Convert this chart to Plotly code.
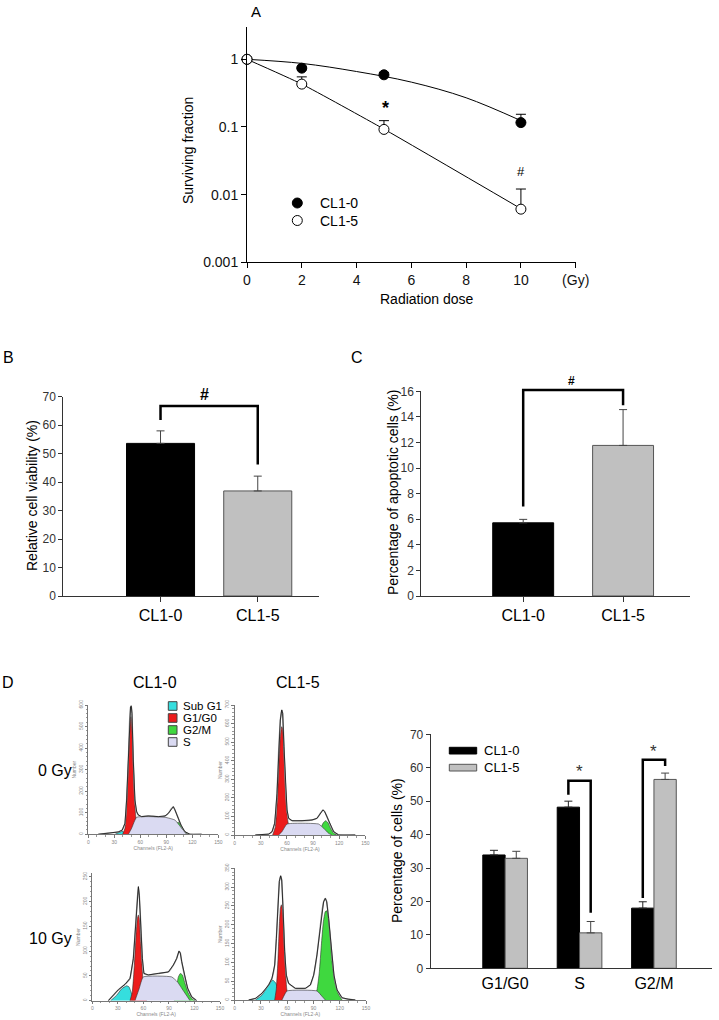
import plotly.graph_objects as go

W, H = 719, 1020


def PX(x):
    return x / W


def PY(y):
    return 1 - y / H


FONT = "Arial, Liberation Sans, sans-serif"

# ---------------- Panel A : clonogenic survival ----------------
dose = [0, 2, 5, 10]
sf_cl10 = [1.0, 0.74, 0.59, 0.116]
sf_cl10_err = [0, 0.03, 0.05, 0.038]
sf_cl15 = [1.0, 0.43, 0.092, 0.0061]
sf_cl15_err = [0, 0.12, 0.032, 0.006]
fit_dose_cl10 = [0, 2, 4, 6, 8, 10]
fit_sf_cl10 = [1.0, 0.87, 0.66, 0.46, 0.27, 0.124]
fit_dose_cl15 = [0, 2, 5, 10]
fit_sf_cl15 = [1.0, 0.43, 0.093, 0.0062]
dose_ticks = [0, 2, 4, 6, 8, 10, 12]
dose_ticktext = ["0", "2", "4", "6", "8", "10", "(Gy)"]
sf_ticks = [0.001, 0.01, 0.1, 1]
sf_ticktext = ["0.001", "0.01", "0.1", "1"]

# ---------------- Panel B : viability ----------------
lines = ["CL1-0", "CL1-5"]
viability = [53.6, 36.9]
viability_err = [4.4, 5.2]
viab_bracket = [61.8, 66.7, 46.2]   # left leg end, bar, right leg end
viab_mark_y = 70.9

# ---------------- Panel C : apoptosis ----------------
apoptosis = [5.72, 11.77]
apoptosis_err = [0.27, 2.8]
apop_bracket = [7.0, 16.1, 14.9]
apop_mark_y = 16.8

# ---------------- Panel D : cell cycle ----------------
phases = ["G1/G0", "S", "G2/M"]
cycle_cl10 = [33.9, 48.2, 18.0]
cycle_cl10_err = [1.4, 1.8, 1.9]
cycle_cl15 = [32.9, 10.6, 56.5]
cycle_cl15_err = [2.1, 3.4, 1.9]
s_bracket = [51.9, 56.1, 16.6]
g2m_bracket = [21.0, 62.4, 60.5]
star_y = [59.0, 65.0]

# flow-cytometry histograms (channel, count)
h_tl_env = [(11.5, 0), (23, 5), (34.6, 11), (39.2, 20), (42.3, 51), (44.2, 159), (46.2, 345),
            (47.7, 530), (48.8, 592), (49.6, 595), (50.4, 561), (51.9, 345), (53.8, 159),
            (55.8, 105), (57.7, 90), (61.5, 82), (69.2, 85), (80.8, 82), (88.5, 85),
            (92.3, 97), (95.4, 116), (98.1, 128), (100, 113), (103.1, 82), (106.9, 43),
            (111.5, 12), (117.3, 0), (130.8, 0)]
h_tl_sub = [(30.8, 0), (35.4, 8), (39.6, 15), (41.5, 0)]
h_tl_g1 = [(39.6, 0), (42.3, 28), (44.2, 128), (45.8, 283), (47.3, 437), (48.5, 530), (49.2, 546),
           (50, 530), (51.2, 422), (52.3, 283), (53.5, 159), (54.6, 90), (55.8, 43), (57.7, 12),
           (59.6, 0)]
h_tl_g2 = [(96.2, 0), (99.2, 28), (101.9, 51), (103.8, 56), (106.2, 48), (108.5, 28), (111.5, 8),
           (114.6, 0)]
h_tl_s = [(46.2, 0), (50, 28), (55.8, 79), (88.5, 79), (100, 66), (107.7, 28), (113.5, 0)]
h_tl_marks = [50]

h_tr_env = [(23.7, 0), (39, 5), (42.9, 18), (45.9, 63), (48.6, 224), (50.5, 458), (52.4, 619),
            (54, 673), (55.1, 655), (56.6, 476), (58.2, 278), (60.1, 135), (62, 90), (65.8, 77),
            (77.3, 77), (88.8, 81), (94.5, 90), (98.4, 117), (101.4, 135), (103.3, 126),
            (106, 99), (109.8, 54), (113.7, 18), (119.4, 0), (138.5, 0)]
h_tr_sub = []
h_tr_g1 = [(43.6, 0), (46.7, 45), (49, 188), (50.9, 386), (52.4, 530), (54, 583), (55.1, 574),
           (56.6, 440), (58.2, 260), (59.7, 135), (61.2, 72), (63.1, 27), (65.8, 0)]
h_tr_g2 = [(95.7, 0), (98.7, 36), (101.8, 66), (104.5, 77), (107.2, 66), (110.2, 36), (113.7, 9),
           (117.5, 0)]
h_tr_s = [(50.5, 0), (54.3, 18), (60.1, 59), (96.4, 59), (102.2, 36), (107.9, 9), (111.7, 0)]
h_tr_marks = [54, 102]

h_bl_env = [(18.8, 0), (24.7, 11), (30.6, 22), (38.4, 33), (44.3, 45), (48.2, 85), (50.9, 153),
            (52.9, 206), (54.1, 230), (55.2, 213), (56.8, 159), (58.8, 85), (60.7, 55),
            (65.8, 52), (77.6, 55), (89.3, 58), (95.2, 72), (99.1, 85), (101.8, 100),
            (103.4, 96), (105, 79), (108.1, 52), (112, 25), (116.7, 8), (122.6, 0)]
h_bl_sub = [(21.5, 0), (28.6, 11), (34.5, 24), (40.3, 30), (43.1, 28), (45.4, 18), (48.2, 0)]
h_bl_g1 = [(44.3, 0), (47, 18), (49.4, 72), (51.3, 132), (52.9, 166), (54.1, 173), (55.2, 166),
           (56.8, 119), (58.4, 72), (59.9, 32), (61.9, 8), (63.8, 0)]
h_bl_g2 = [(96.4, 0), (98.7, 25), (101.1, 48), (103.4, 55), (105.8, 52), (108.9, 35), (112.8, 15),
           (117.5, 3), (120.6, 0)]
h_bl_s = [(50.1, 0), (55, 24), (59.9, 48), (93.2, 48), (100, 38), (107, 20), (114.8, 0)]
h_bl_marks = [54, 103]

h_br_env = [(16, 0), (23.6, 4), (31.2, 18), (38.8, 40), (42.6, 58), (45.7, 93), (47.6, 164),
            (49.5, 253), (51, 315), (52.5, 330), (53.7, 319), (55.2, 244), (57.1, 128),
            (59, 66), (61.7, 44), (69.3, 31), (80.7, 31), (86.4, 40), (90.2, 66), (94, 120),
            (97.1, 182), (99.7, 235), (101.6, 261), (103.5, 270), (105.1, 261), (107.3, 217),
            (110.4, 137), (113.4, 66), (116.9, 27), (122.6, 6), (130.2, 2), (137.8, 0)]
h_br_sub = [(23.6, 0), (31.2, 13), (38.8, 40), (43.4, 53), (47.2, 44), (51, 0)]
h_br_g1 = [(45.7, 0), (47.6, 31), (49.5, 111), (51, 199), (52.2, 244), (53.3, 253), (54.8, 239),
           (56.3, 164), (57.9, 84), (59.4, 31), (61.7, 0)]
h_br_g2 = [(86.4, 0), (90.2, 9), (94, 27), (96.7, 75), (99, 146), (101.3, 208), (103.5, 235),
           (105.1, 237), (106.6, 226), (108.9, 173), (111.2, 102), (114.2, 49), (118, 18),
           (122.6, 0)]
h_br_s = [(54, 0), (59.8, 24), (94, 24), (99.7, 10), (103.5, 0)]
h_br_marks = [54, 104]

hist_phase_names = ["Sub G1", "G1/G0", "G2/M", "S"]
hist_phase_colors = ["#35dede", "#ec1c1c", "#3fd83f", "#dadaf2"]

fig = go.Figure()

# ---- Panel A traces
fig.add_trace(go.Scatter(x=fit_dose_cl10, y=fit_sf_cl10, mode="lines", line=dict(color="black", width=1, shape="spline"),
                         xaxis="x", yaxis="y", showlegend=False, hoverinfo="skip"))
fig.add_trace(go.Scatter(x=fit_dose_cl15, y=fit_sf_cl15, mode="lines", line=dict(color="black", width=1, shape="spline", smoothing=0.5),
                         xaxis="x", yaxis="y", showlegend=False, hoverinfo="skip"))
fig.add_trace(go.Scatter(x=dose, y=sf_cl10, mode="markers", name="CL1-0",
                         marker=dict(size=10, color="black", line=dict(color="black", width=1)),
                         error_y=dict(type="data", symmetric=False, array=sf_cl10_err, arrayminus=[0] * 4,
                                      color="black", thickness=1, width=5),
                         xaxis="x", yaxis="y", showlegend=False, cliponaxis=False))
fig.add_trace(go.Scatter(x=dose, y=sf_cl15, mode="markers", name="CL1-5",
                         marker=dict(size=10, color="white", line=dict(color="black", width=1)),
                         error_y=dict(type="data", symmetric=False, array=sf_cl15_err, arrayminus=[0] * 4,
                                      color="black", thickness=1, width=5),
                         xaxis="x", yaxis="y", showlegend=False, cliponaxis=False))

# ---- Panel B
fig.add_trace(go.Bar(x=[1, 2], y=viability, width=0.7,
                     marker=dict(color=["black", "#c0c0c0"], line=dict(color=["black", "#555555"], width=1)),
                     error_y=dict(type="data", symmetric=False, array=viability_err, arrayminus=[0, 0],
                                  color="#444444", thickness=1, width=4),
                     xaxis="x2", yaxis="y2", showlegend=False))
# bracket drawn on a hidden overlay axis with the same scale but a taller plot area
fig.add_trace(go.Scatter(x=[1, 1, 2, 2], y=[viab_bracket[0], viab_bracket[1], viab_bracket[1], viab_bracket[2]],
                         mode="lines", line=dict(color="black", width=2.5), xaxis="x9", yaxis="y9",
                         showlegend=False, hoverinfo="skip"))

# ---- Panel C
fig.add_trace(go.Bar(x=[1, 2], y=apoptosis, width=0.61,
                     marker=dict(color=["black", "#c0c0c0"], line=dict(color=["black", "#555555"], width=1)),
                     error_y=dict(type="data", symmetric=False, array=apoptosis_err, arrayminus=[0, 0],
                                  color="#444444", thickness=1, width=4),
                     xaxis="x3", yaxis="y3", showlegend=False))
fig.add_trace(go.Scatter(x=[1, 1, 2, 2], y=[apop_bracket[0], apop_bracket[1], apop_bracket[1], apop_bracket[2]],
                         mode="lines", line=dict(color="black", width=2.5), xaxis="x10", yaxis="y10",
                         showlegend=False, hoverinfo="skip"))

# ---- Panel D bars
phase_pos = [1, 2, 3]
fig.add_trace(go.Bar(x=phase_pos, y=cycle_cl10, name="CL1-0",
                     marker=dict(color="black", line=dict(color="black", width=1)),
                     error_y=dict(type="data", symmetric=False, array=cycle_cl10_err, arrayminus=[0] * 3,
                                  color="#222222", thickness=1, width=4),
                     xaxis="x4", yaxis="y4", showlegend=False))
fig.add_trace(go.Bar(x=phase_pos, y=cycle_cl15, name="CL1-5",
                     marker=dict(color="#c0c0c0", line=dict(color="#555555", width=1)),
                     error_y=dict(type="data", symmetric=False, array=cycle_cl15_err, arrayminus=[0] * 3,
                                  color="#444444", thickness=1, width=4),
                     xaxis="x4", yaxis="y4", showlegend=False))
half = 0.15
for pos, br in ((phase_pos[1], s_bracket), (phase_pos[2], g2m_bracket)):
    fig.add_trace(go.Scatter(x=[pos - half, pos - half, pos + half, pos + half], y=[br[0], br[1], br[1], br[2]],
                             mode="lines", line=dict(color="black", width=2.5), xaxis="x4", yaxis="y4",
                             showlegend=False, hoverinfo="skip"))

# ---- Panel D histograms
hists = [
    ("5", h_tl_env, h_tl_sub, h_tl_g1, h_tl_g2, h_tl_s, h_tl_marks, 600, 100),
    ("6", h_tr_env, h_tr_sub, h_tr_g1, h_tr_g2, h_tr_s, h_tr_marks, 700, 100),
    ("7", h_bl_env, h_bl_sub, h_bl_g1, h_bl_g2, h_bl_s, h_bl_marks, 257, 50),
    ("8", h_br_env, h_br_sub, h_br_g1, h_br_g2, h_br_s, h_br_marks, 350, 50),
]
for ax, env, sub, g1, g2, s, marks, ymax, dt in hists:
    for pts, col in ((sub, hist_phase_colors[0]), (g1, hist_phase_colors[1]),
                     (g2, hist_phase_colors[2]), (s, hist_phase_colors[3])):
        if not pts:
            continue
        fig.add_trace(go.Scatter(x=[p[0] for p in pts], y=[p[1] for p in pts], mode="lines", fill="toself",
                                 fillcolor=col, line=dict(color="#333333", width=0.6, shape="spline", smoothing=0.4),
                                 xaxis="x" + ax, yaxis="y" + ax, showlegend=False, hoverinfo="skip"))
    fig.add_trace(go.Scatter(x=[p[0] for p in env], y=[p[1] for p in env], mode="lines",
                             line=dict(color="#9a9a9a", width=1.4, shape="spline", smoothing=0.3),
                             xaxis="x" + ax, yaxis="y" + ax, showlegend=False, hoverinfo="skip"))
    fig.add_trace(go.Scatter(x=[p[0] for p in env], y=[p[1] for p in env], mode="lines",
                             line=dict(color="#111111", width=0.8),
                             xaxis="x" + ax, yaxis="y" + ax, showlegend=False, hoverinfo="skip"))
    fig.add_trace(go.Scatter(x=marks, y=[-0.025 * ymax] * len(marks), mode="markers",
                             marker=dict(symbol="triangle-up", size=5, color="black"), cliponaxis=False,
                             xaxis="x" + ax, yaxis="y" + ax, showlegend=False, hoverinfo="skip"))

# ---------------- layout ----------------
ax_common = dict(showgrid=False, zeroline=False, showline=True, ticks="outside")

layout = dict(
    width=W, height=H, margin=dict(l=0, r=0, t=0, b=0),
    paper_bgcolor="white", plot_bgcolor="rgba(0,0,0,0)",
    font=dict(family=FONT, color="black"),
    barmode="group", bargap=0.4, bargroupgap=0,
    template="none",
)

layout["xaxis"] = dict(ax_common, domain=[PX(247), PX(575.7)], range=[0, 12], anchor="y",
                       tickvals=dose_ticks, ticktext=dose_ticktext, ticklen=5, linecolor="black",
                       tickcolor="black", tickfont=dict(size=14, color="#111"))
layout["yaxis"] = dict(ax_common, domain=[PY(262.3), PY(27.3)], type="log", range=[-3, 0.473], anchor="x",
                       tickvals=sf_ticks, ticktext=sf_ticktext, ticklen=5, linecolor="black",
                       tickcolor="black", tickfont=dict(size=14, color="#111"))

bar_y_font = dict(size=12, color="#333")
b_dom_x = [PX(63.3), PX(319)]
b_y0, b_y70 = 596, 396.7
layout["xaxis2"] = dict(ax_common, domain=b_dom_x, range=[0, 2.63], anchor="y2",
                        tickvals=[1, 2], ticktext=lines, ticklen=5, linecolor="#333", tickcolor="#333",
                        tickfont=dict(size=16, color="black"))
layout["yaxis2"] = dict(ax_common, domain=[PY(b_y0), PY(b_y70)], range=[0, 70], dtick=10, anchor="x2",
                        ticklen=4, linecolor="#333", tickcolor="#333", tickfont=bar_y_font)
# hidden overlay for B (same scale, taller area)
b_top = 375
layout["xaxis9"] = dict(domain=b_dom_x, range=[0, 2.63], anchor="y9", visible=False)
layout["yaxis9"] = dict(domain=[PY(b_y0), PY(b_top)], range=[0, 70 * (b_y0 - b_top) / (b_y0 - b_y70)],
                        anchor="x9", visible=False)

c_dom_x = [PX(421.3), PX(690)]
c_y0, c_y16 = 596, 391.3
layout["xaxis3"] = dict(ax_common, domain=c_dom_x, range=[-0.02, 2.67], anchor="y3",
                        tickvals=[1, 2], ticktext=lines, ticklen=5, linecolor="#333", tickcolor="#333",
                        tickfont=dict(size=16, color="black"))
layout["yaxis3"] = dict(ax_common, domain=[PY(c_y0), PY(c_y16)], range=[0, 16], dtick=2, anchor="x3",
                        ticklen=4, linecolor="#333", tickcolor="#333", tickfont=bar_y_font)
c_top = 370
layout["xaxis10"] = dict(domain=c_dom_x, range=[-0.02, 2.67], anchor="y10", visible=False)
layout["yaxis10"] = dict(domain=[PY(c_y0), PY(c_top)], range=[0, 16 * (c_y0 - c_top) / (c_y0 - c_y16)],
                         anchor="x10", visible=False)

layout["xaxis4"] = dict(ax_common, domain=[PX(430.7), PX(712)], range=[0, 3.78], anchor="y4",
                        tickvals=phase_pos, ticktext=phases, ticks="", linecolor="#333",
                        tickfont=dict(size=16, color="black"))
layout["yaxis4"] = dict(ax_common, domain=[PY(968.3), PY(734.3)], range=[0, 70], dtick=10, anchor="x4",
                        ticklen=4, linecolor="#333", tickcolor="#333", tickfont=bar_y_font)

hist_dom = {
    "5": ([88.3, 218.3], [834.3, 705]),
    "6": ([234.7, 365.3], [835, 705]),
    "7": ([92.3, 220], [1000.7, 873.3]),
    "8": ([234.7, 366], [1000, 868.3]),
}
for ax, env, sub, g1, g2, s, marks, ymax, dt in hists:
    xd, yd = hist_dom[ax]
    layout["xaxis" + ax] = dict(ax_common, domain=[PX(xd[0]), PX(xd[1])], range=[0, 150], anchor="y" + ax,
                                tickvals=[0, 30, 60, 90, 120, 150], ticklen=2.5, linecolor="#777",
                                tickcolor="#777", tickfont=dict(size=5, color="#888"),
                                minor=dict(dtick=10, ticks="outside", ticklen=1.5, tickcolor="#999"),
                                title=dict(text="Channels (FL2-A)", font=dict(size=5, color="#888"), standoff=1))
    layout["yaxis" + ax] = dict(ax_common, domain=[PY(yd[0]), PY(yd[1])], range=[0, ymax], anchor="x" + ax,
                                dtick=dt, ticklen=2.5, linecolor="#777", tickcolor="#777", tickangle=-90,
                                tickfont=dict(size=5, color="#888"),
                                minor=dict(dtick=dt / 5, ticks="outside", ticklen=1.5, tickcolor="#999"),
                                title=dict(text="Number", font=dict(size=5, color="#888"), standoff=1))

annotations = []


def txt(x, y, s, size=14, xanchor="center", yanchor="middle", angle=0, bold=False, color="black",
        xref="paper", yref="paper"):
    annotations.append(dict(x=x, y=y, xref=xref, yref=yref, text=("<b>%s</b>" % s) if bold else s,
                            showarrow=False, xanchor=xanchor, yanchor=yanchor, textangle=angle,
                            font=dict(size=size, color=color, family=FONT)))


# panel letters
txt(PX(256), PY(12), "A", 15)
txt(PX(8), PY(357), "B", 16)
txt(PX(357), PY(357), "C", 16)
txt(PX(7.5), PY(682), "D", 16)

# panel A texts
txt(PX(188), PY(151), "Surviving fraction", 14, angle=-90)
txt(PX(427), PY(299), "Radiation dose", 14)
txt(5.05, -0.724, "*", 18, bold=True, xref="x", yref="y")
txt(10, -1.661, "#", 13, xref="x", yref="y")
txt(PX(318), PY(203), "CL1-0", 14, xanchor="left")
txt(PX(318), PY(220.5), "CL1-5", 14, xanchor="left")

# panel B/C texts
txt(PX(32), PY(496), "Relative cell viability (%)", 14, angle=-90)
txt(1.45, viab_mark_y, "#", 16, bold=True, xref="x9", yref="y9")
txt(PX(393), PY(493), "Percentage of apoptotic cells (%)", 14, angle=-90)
txt(1.48, apop_mark_y, "#", 12, bold=True, xref="x10", yref="y10")

# panel D texts
txt(PX(397), PY(851), "Percentage of cells (%)", 14, angle=-90)
txt(phase_pos[1], star_y[0], "*", 17, color="#333", xref="x4", yref="y4")
txt(phase_pos[2], star_y[1], "*", 17, color="#333", xref="x4", yref="y4")
txt(PX(481.7), PY(750.7), "CL1-0", 13, xanchor="left")
txt(PX(481.7), PY(767.7), "CL1-5", 13, xanchor="left")
txt(PX(155), PY(682), "CL1-0", 16)
txt(PX(298.3), PY(682), "CL1-5", 16)
txt(PX(55), PY(770), "0 Gy", 16)
txt(PX(50), PY(938), "10 Gy", 16)
hist_leg_y = [706, 718, 730, 742]
for name, yy in zip(hist_phase_names, hist_leg_y):
    txt(PX(181), PY(yy), name, 11.5, xanchor="left")

shapes = []
# legend symbols: panel A
shapes.append(dict(type="circle", xref="paper", yref="paper", xsizemode="pixel", ysizemode="pixel",
                   xanchor=PX(297.3), yanchor=PY(203), x0=-5, x1=5, y0=-5, y1=5,
                   fillcolor="black", line=dict(color="black", width=1)))
shapes.append(dict(type="circle", xref="paper", yref="paper", xsizemode="pixel", ysizemode="pixel",
                   xanchor=PX(297.3), yanchor=PY(220.5), x0=-5, x1=5, y0=-5, y1=5,
                   fillcolor="white", line=dict(color="black", width=1)))
# legend symbols: panel D bars
shapes.append(dict(type="rect", xref="paper", yref="paper", x0=PX(449.3), x1=PX(476.7), y0=PY(754),
                   y1=PY(747.3), fillcolor="black", line=dict(color="black", width=1)))
shapes.append(dict(type="rect", xref="paper", yref="paper", x0=PX(449.3), x1=PX(476.7), y0=PY(771),
                   y1=PY(764.3), fillcolor="#c0c0c0", line=dict(color="#555", width=1)))
# legend symbols: histograms
for col, yy in zip(hist_phase_colors, hist_leg_y):
    shapes.append(dict(type="rect", xref="paper", yref="paper", x0=PX(168.3), x1=PX(177), y0=PY(yy + 4.3),
                       y1=PY(yy - 4.3), fillcolor=col, line=dict(color="#444", width=1)))

layout["annotations"] = annotations
layout["shapes"] = shapes
fig.update_layout(**layout)

fig.write_html("out.html", config={"displayModeBar": False},
               post_script="document.body.style.margin='0';document.body.style.overflow='hidden';")
